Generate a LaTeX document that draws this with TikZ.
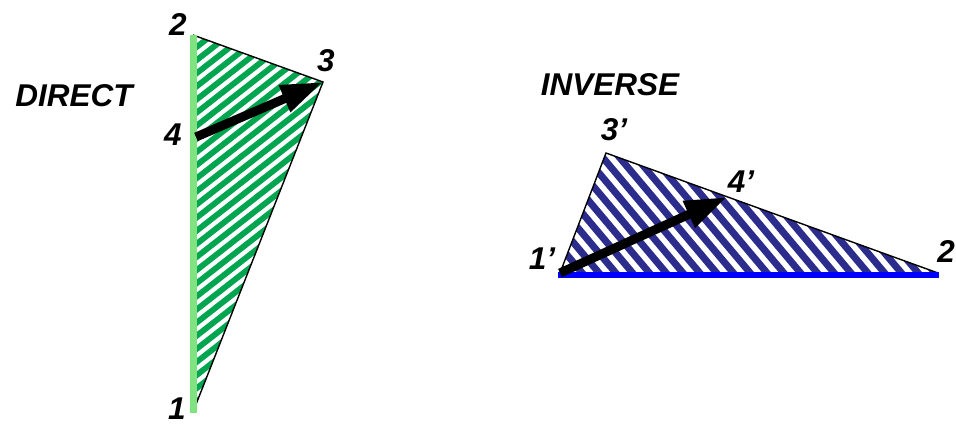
\documentclass[tikz,border=0pt]{standalone}
\usepackage{fontspec}
\setmainfont{Liberation Sans}
\usetikzlibrary{arrows.meta}
\definecolor{hatchgreen}{RGB}{0,165,80}
\definecolor{bargreen}{RGB}{128,226,128}
\definecolor{hatchnavy}{RGB}{44,44,140}
\definecolor{barblue}{RGB}{0,0,255}
\tikzset{
  lbl/.style={font=\fontsize{31.5}{31.5}\selectfont\bfseries\itshape, inner sep=0pt},
  edge/.style={draw=black, line width=1.4pt},
  bigarrow/.style={line width=9pt, -{Triangle[length=42pt,width=27pt]}},
}
\begin{document}
\begin{tikzpicture}[x=1pt,y=-1pt]
\useasboundingbox (0,0) rectangle (956,425);
% ---- DIRECT ----
\coordinate (d2) at (193,35);
\coordinate (d3) at (323,82);
\coordinate (d1) at (193,412);
\coordinate (d4) at (196,137);
\begin{scope}
  \clip (d2) -- (d3) -- (d1) -- cycle;
  \foreach \k in {-50,...,40} {
    \draw[hatchgreen, line width=5.8pt] (\k*16.8,450) -- ++(640,-500);
  }
\end{scope}
\draw[edge] (d2) -- (d3) -- (d1);
\draw[bargreen, line width=7pt] (193.5,35) -- (193.5,413);
\draw[bigarrow] (d4) -- (d3);
\node[lbl] (t2) at (178,25) {2};
\node[lbl] (t3) at (326,61) {3};
\node[lbl] (t4) at (173,135) {4};
\node[lbl] (t1) at (177,409) {1};
\node[lbl] (direct) at (74,96) {DIRECT};
% ---- INVERSE ----
\coordinate (i1) at (560,273);
\coordinate (i3) at (606,153);
\coordinate (i2) at (938,273);
\coordinate (i4) at (727,197);
\begin{scope}
  \clip (i1) -- (i3) -- (i2) -- cycle;
  \foreach \k in {-30,...,70} {
    \draw[hatchnavy, line width=7pt] (\k*16.8,0) -- ++(300,357);
  }
\end{scope}
\draw[edge] (i1) -- (i3) -- (i2);
\draw[barblue, line width=6pt] (558,275) -- (939,275);
\draw[bigarrow] (i1) -- (i4);
\node[lbl] (u3) at (614,130) {3’};
\node[lbl] (u4) at (741,182) {4’};
\node[lbl] (u1) at (542,259) {1’};
\node[lbl] (u2) at (946,252) {2};
\node[lbl] (inverse) at (610,85) {INVERSE};
\end{tikzpicture}
\end{document}
